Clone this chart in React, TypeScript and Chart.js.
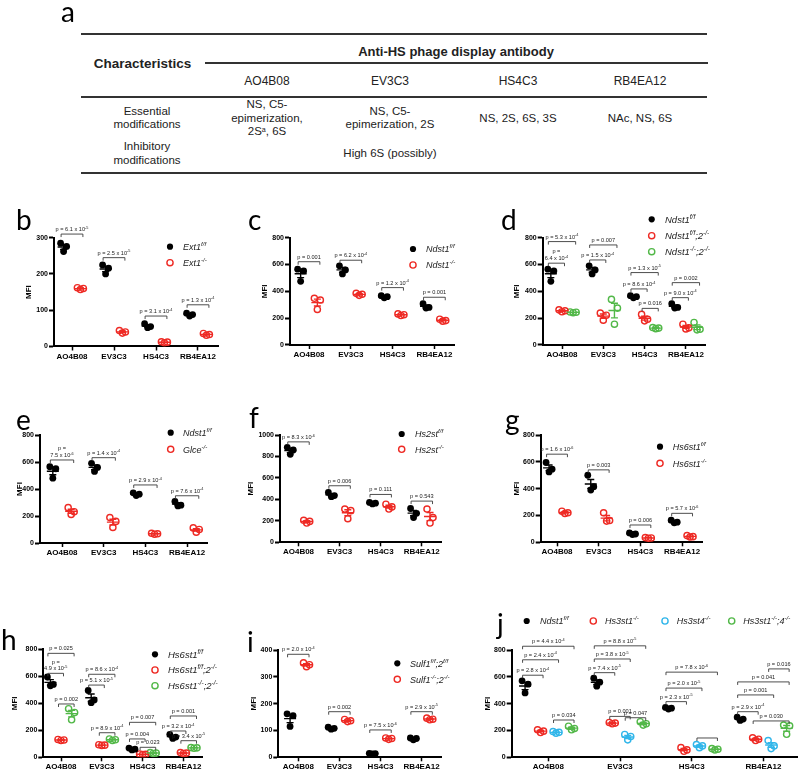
import React, { useEffect, useRef } from "react";
import { Chart, registerables } from "chart.js";

Chart.register(...registerables);

const FONT = "'Liberation Sans', Arial, Helvetica, sans-serif";
const LETTER_FONT = "Lato, 'Open Sans', sans-serif";
const BLACK = "#000000";
const RED = "#ee2a24";
const GREEN = "#52b848";
const CYAN = "#31b6ea";

const categories = ["AO4B08", "EV3C3", "HS4C3", "RB4EA12"];

// ---------- panel a (table) ----------
const tableTitle = "Anti-HS phage display antibody";
const rowHeader = "Characteristics";
const rowLabels = [["Essential", "modifications"], ["Inhibitory", "modifications"]];
const essentialCells = [["NS, C5-", "epimerization,", "2S^{a}, 6S"], ["NS, C5-", "epimerization, 2S"], ["NS, 2S, 6S, 3S"], ["NAc, NS, 6S"]];
const inhibitoryCells = [[], ["High 6S (possibly)"], [], []];

// ---------- panel b ----------
const bYTicks = [0, 100, 200, 300];
const bLegend = ["Ext1^{f/f}", "Ext1^{-/-}"];
const bExt1ff = [[285, 276, 262], [225, 216, 200], [63, 55, 52], [92, 88, 84]];
const bExt1ko = [[162, 160, 157], [44, 40, 37], [13, 12, 10], [36, 33, 31]];
const bBrackets = [
  [0, 0, 1, 310, "p = 6.1 x 10^{-5}"],
  [1, 0, 1, 245, "p = 2.5 x 10^{-5}"],
  [2, 0, 1, 84, "p = 3.1 x 10^{-4}"],
  [3, 0, 1, 115, "p = 1.3 x 10^{-4}"],
];

// ---------- panel c ----------
const cYTicks = [0, 200, 400, 600, 800];
const cLegend = ["Ndst1^{f/f}", "Ndst1^{-/-}"];
const cNdst1ff = [[565, 552, 475], [590, 560, 530], [368, 360, 352], [308, 280, 275]];
const cNdst1ko = [[348, 335, 265], [385, 378, 370], [232, 226, 220], [192, 182, 178]];
const cBrackets = [
  [0, 0, 1, 621, "p = 0.001"],
  [1, 0, 1, 632, "p = 6.2 x 10^{-4}"],
  [2, 0, 1, 428, "p = 1.2 x 10^{-4}"],
  [3, 0, 1, 356, "p = 0.001"],
];

// ---------- panel d ----------
const dYTicks = [0, 200, 400, 600, 800];
const dLegend = ["Ndst1^{f/f}", "Ndst1^{f/f};2^{-/-}", "Ndst1^{-/-};2^{-/-}"];
const dNdst1ff = [[565, 552, 475], [590, 560, 530], [368, 360, 352], [308, 280, 275]];
const dNdst1ffNdst2ko = [[262, 255, 248], [238, 222, 185], [228, 192, 180], [155, 128, 120]];
const dNdst1koNdst2ko = [[246, 244, 241], [340, 275, 155], [130, 126, 122], [168, 117, 113]];
const dBrackets = [
  [0, 0, 2, 771, "p = 5.3 x 10^{-4}"],
  [0, 0, 1, 610, "p =\n6.4 x 10^{-4}"],
  [1, 0, 2, 746, "p = 0.007"],
  [1, 0, 1, 634, "p = 1.5 x 10^{-4}"],
  [2, 0, 2, 540, "p = 1.3 x 10^{-5}"],
  [2, 0, 1, 418, "p = 8.6 x 10^{-4}"],
  [2, 1, 2, 273, "p = 0.016"],
  [3, 0, 2, 465, "p = 0.002"],
  [3, 0, 1, 353, "p = 9.0 x 10^{-4}"],
];

// ---------- panel e ----------
const eYTicks = [0, 200, 400, 600, 800];
const eLegend = ["Ndst1^{f/f}", "Glce^{-/-}"];
const eNdst1ff = [[565, 550, 480], [590, 560, 530], [372, 362, 352], [308, 280, 275]];
const eGlceko = [[262, 232, 212], [188, 160, 115], [72, 68, 65], [112, 100, 80]];
const eBrackets = [
  [0, 0, 1, 615, "p =\n7.5 x 10^{-6}"],
  [1, 0, 1, 632, "p = 1.4 x 10^{-4}"],
  [2, 0, 1, 430, "p = 2.9 x 10^{-4}"],
  [3, 0, 1, 350, "p = 7.6 x 10^{-4}"],
];

// ---------- panel f ----------
const fYTicks = [0, 200, 400, 600, 800, 1000];
const fLegend = ["Hs2st^{f/f}", "Hs2st^{-/-}"];
const fHs2stff = [[885, 860, 820], [465, 435, 425], [372, 365, 358], [315, 270, 230]];
const fHs2stko = [[205, 195, 180], [310, 295, 220], [355, 330, 310], [310, 230, 180]];
const fBrackets = [
  [0, 0, 1, 936, "p = 8.3 x 10^{-6}"],
  [1, 0, 1, 527, "p = 0.006"],
  [2, 0, 1, 446, "p = 0.111"],
  [3, 0, 1, 384, "p = 0.543"],
];

// ---------- panel g ----------
const gYTicks = [0, 200, 400, 600, 800];
const gLegend = ["Hs6st1^{f/f}", "Hs6st1^{-/-}"];
const gHs6st1ff = [[595, 545, 525], [500, 415, 390], [70, 62, 58], [165, 150, 145]];
const gHs6st1ko = [[232, 220, 215], [220, 162, 158], [35, 32, 30], [50, 42, 40]];
const gBrackets = [
  [0, 0, 1, 657, "p = 1.6 x 10^{-6}"],
  [1, 0, 1, 540, "p = 0.003"],
  [2, 0, 1, 129, "p = 0.006"],
  [3, 0, 1, 216, "p = 5.7 x 10^{-6}"],
];

// ---------- panel h ----------
const hYTicks = [0, 200, 400, 600, 800];
const hLegend = ["Hs6st1^{f/f}", "Hs6st1^{f/f};2^{-/-}", "Hs6st1^{-/-};2^{-/-}"];
const hHs6st1ff = [[595, 540, 530], [495, 425, 405], [68, 60, 55], [170, 150, 140]];
const hHs6st1ffHs6st2ko = [[132, 128, 125], [93, 90, 88], [25, 22, 20], [35, 31, 28]];
const hHs6st1koHs6st2ko = [[360, 332, 278], [136, 130, 125], [35, 31, 28], [72, 70, 67]];
const hBrackets = [
  [0, 0, 2, 770, "p = 0.025"],
  [0, 0, 1, 622, "p =\n4.9 x 10^{-5}"],
  [0, 1, 2, 395, "p = 0.002"],
  [1, 0, 2, 615, "p = 8.6 x 10^{-4}"],
  [1, 0, 1, 535, "p = 5.1 x 10^{-5}"],
  [1, 1, 2, 182, "p = 8.9 x 10^{-4}"],
  [2, 0, 2, 259, "p = 0.007"],
  [2, 0, 1, 136, "p = 0.004"],
  [2, 1, 2, 74, "p = 0.023"],
  [3, 0, 2, 306, "p = 0.001"],
  [3, 0, 1, 195, "p = 3.2 x 10^{-4}"],
  [3, 1, 2, 123, "p = 3.4 x 10^{-5}"],
];

// ---------- panel i ----------
const iYTicks = [0, 100, 200, 300, 400];
const iLegend = ["Sulf1^{f/f};2^{f/f}", "Sulf1^{-/-};2^{-/-}"];
const iSulfff = [[162, 155, 115], [112, 108, 105], [15, 14, 13], [72, 70, 65]];
const iSulfko = [[352, 345, 338], [141, 136, 133], [72, 70, 67], [146, 142, 140]];
const iBrackets = [
  [0, 0, 1, 384, "p = 2.0 x 10^{-4}"],
  [1, 0, 1, 170, "p = 0.002"],
  [2, 0, 1, 102, "p = 7.5 x 10^{-6}"],
  [3, 0, 1, 170, "p = 2.9 x 10^{-5}"],
];

// ---------- panel j ----------
const jYTicks = [0, 200, 400, 600, 800];
const jLegend = ["Ndst1^{f/f}", "Hs3st1^{-/-}", "Hs3st4^{-/-}", "Hs3st1^{-/-};4^{-/-}"];
const jNdst1ff = [[570, 545, 480], [590, 560, 530], [372, 366, 360], [300, 285, 275]];
const jHs3st1ko = [[205, 195, 185], [260, 255, 250], [72, 55, 45], [145, 135, 125]];
const jHs3st4ko = [[192, 186, 180], [170, 155, 130], [95, 85, 72], [125, 85, 65]];
const jHs3st14ko = [[232, 215, 205], [265, 250, 240], [65, 60, 55], [240, 235, 172]];
const jBrackets = [
  [0, 0, 3, 828, "p = 4.4 x 10^{-4}"],
  [0, 0, 2, 727, "p = 2.4 x 10^{-4}"],
  [0, 0, 1, 612, "p = 2.8 x 10^{-4}"],
  [0, 2, 3, 278, "p = 0.034"],
  [1, 0, 3, 831, "p = 8.8 x 10^{-5}"],
  [1, 0, 2, 733, "p = 3.8 x 10^{-5}"],
  [1, 0, 1, 631, "p = 7.4 x 10^{-5}"],
  [1, 1, 2, 305, "p = 0.001"],
  [1, 2, 3, 295, "p = 0.047"],
  [2, 0, 3, 635, "p = 7.8 x 10^{-6}"],
  [2, 0, 2, 516, "p = 2.0 x 10^{-5}"],
  [2, 0, 1, 415, "p = 2.3 x 10^{-5}"],
  [2, 2, 3, 144, ""],
  [3, 2, 3, 659, "p = 0.016"],
  [3, 0, 3, 562, "p = 0.041"],
  [3, 0, 2, 465, "p = 0.001"],
  [3, 0, 1, 340, "p = 2.9 x 10^{-4}"],
  [3, 1, 3, 271, "p = 0.030"],
];

// ---------- layout (positions only) ----------
type Geo = {
  axisX: number; center0: number; spacing: number; yTop: number; yZero: number; mfiX: number;
  offsets: number[]; lx: number[]; ly: number[]; tx: number[]; lsize: number;
};
type PanelDef = { key: string; yTicks: number[]; series: number[][][]; names: string[]; colors: string[]; brackets: any[]; geo: Geo };

const panels: PanelDef[] = [
  { key: "b", yTicks: bYTicks, series: [bExt1ff, bExt1ko], names: bLegend, colors: [BLACK, RED], brackets: bBrackets,
    geo: { axisX: 54, center0: 72, spacing: 42, yTop: 237.7, yZero: 346.5, mfiX: 29, offsets: [-0.2, 0.2], lx: [170, 170], ly: [246.7, 262.7], tx: [183, 183], lsize: 9 } },
  { key: "c", yTicks: cYTicks, series: [cNdst1ff, cNdst1ko], names: cLegend, colors: [BLACK, RED], brackets: cBrackets,
    geo: { axisX: 290, center0: 309, spacing: 41.8, yTop: 237.7, yZero: 345, mfiX: 265, offsets: [-0.2, 0.2], lx: [413, 413], ly: [249, 265], tx: [426, 426], lsize: 9 } },
  { key: "d", yTicks: dYTicks, series: [dNdst1ff, dNdst1ffNdst2ko, dNdst1koNdst2ko], names: dLegend, colors: [BLACK, RED, GREEN], brackets: dBrackets,
    geo: { axisX: 542.7, center0: 562, spacing: 41.3, yTop: 237.7, yZero: 345, mfiX: 516.7, offsets: [-0.27, 0, 0.27], lx: [651.7, 651.7, 651.7], ly: [219.3, 235.7, 251.7], tx: [665, 665, 665], lsize: 9.5 } },
  { key: "e", yTicks: eYTicks, series: [eNdst1ff, eGlceko], names: eLegend, colors: [BLACK, RED], brackets: eBrackets,
    geo: { axisX: 40, center0: 62, spacing: 41.7, yTop: 435, yZero: 543, mfiX: 20, offsets: [-0.22, 0.22], lx: [170.7, 170.7], ly: [432.7, 449.3], tx: [183, 183], lsize: 9 } },
  { key: "f", yTicks: fYTicks, series: [fHs2stff, fHs2stko], names: fLegend, colors: [BLACK, RED], brackets: fBrackets,
    geo: { axisX: 280, center0: 298.5, spacing: 41.1, yTop: 435, yZero: 542.3, mfiX: 250.7, offsets: [-0.2, 0.2], lx: [401.7, 401.7], ly: [434, 449.3], tx: [415, 415], lsize: 9 } },
  { key: "g", yTicks: gYTicks, series: [gHs6st1ff, gHs6st1ko], names: gLegend, colors: [BLACK, RED], brackets: gBrackets,
    geo: { axisX: 540.7, center0: 557, spacing: 41.7, yTop: 435, yZero: 542.3, mfiX: 516.7, offsets: [-0.19, 0.19], lx: [660, 660], ly: [446.7, 463.3], tx: [672.7, 672.7], lsize: 9 } },
  { key: "h", yTicks: hYTicks, series: [hHs6st1ff, hHs6st1ffHs6st2ko, hHs6st1koHs6st2ko], names: hLegend, colors: [BLACK, RED, GREEN], brackets: hBrackets,
    geo: { axisX: 43.3, center0: 61, spacing: 40.8, yTop: 649.3, yZero: 757.3, mfiX: 15, offsets: [-0.26, 0, 0.26], lx: [155, 155, 155], ly: [654.3, 670, 685.7], tx: [168, 168, 168], lsize: 9.5 } },
  { key: "i", yTicks: iYTicks, series: [iSulfff, iSulfko], names: iLegend, colors: [BLACK, RED], brackets: iBrackets,
    geo: { axisX: 278.3, center0: 298.3, spacing: 41.1, yTop: 650, yZero: 757.3, mfiX: 253.3, offsets: [-0.2, 0.2], lx: [397.3, 397.3], ly: [663.3, 679.3], tx: [410, 410], lsize: 9 } },
  { key: "j", yTicks: jYTicks, series: [jNdst1ff, jHs3st1ko, jHs3st4ko, jHs3st14ko], names: jLegend, colors: [BLACK, RED, CYAN, GREEN], brackets: jBrackets,
    geo: { axisX: 511.7, center0: 548.3, spacing: 71.7, yTop: 650, yZero: 757.3, mfiX: 488, offsets: [-0.324, -0.108, 0.108, 0.324], lx: [526.7, 593.3, 665, 731.7], ly: [621, 621, 621, 621], tx: [540, 605, 676.7, 743.3], lsize: 9 } },
];

const JITTER_PX = [-3, 3, 0];
const X_END = 3.48;

function parseRich(s: string) {
  const segs: { text: string; sup: boolean }[] = [];
  const re = /\^\{([^}]*)\}/g;
  let last = 0;
  let m: RegExpExecArray | null;
  while ((m = re.exec(s))) {
    if (m.index > last) segs.push({ text: s.slice(last, m.index), sup: false });
    segs.push({ text: m[1], sup: true });
    last = re.lastIndex;
  }
  if (last < s.length) segs.push({ text: s.slice(last), sup: false });
  return segs;
}

function drawRich(ctx: CanvasRenderingContext2D, s: string, x: number, y: number, size: number, align: string, style: string, color: string) {
  const segs = parseRich(s);
  const base = `${style} ${size}px ${FONT}`;
  const supSize = size * 0.68;
  const sup = `${style} ${supSize}px ${FONT}`;
  let total = 0;
  const widths = segs.map((sg) => {
    ctx.font = sg.sup ? sup : base;
    const w = ctx.measureText(sg.text).width;
    total += w;
    return w;
  });
  let cx = align === "center" ? x - total / 2 : x;
  ctx.fillStyle = color;
  ctx.textAlign = "left";
  ctx.textBaseline = "alphabetic";
  segs.forEach((sg, i) => {
    ctx.font = sg.sup ? sup : base;
    ctx.fillText(sg.text, cx, sg.sup ? y - size * 0.42 : y);
    cx += widths[i];
  });
}

function PanelChart({ panel }: { panel: PanelDef }) {
  const ref = useRef<HTMLCanvasElement>(null);
  useEffect(() => {
    const canvas = ref.current;
    if (!canvas) return;
    const g = panel.geo;
    const sp = g.spacing;
    const xMin = (g.axisX - g.center0) / sp;
    const xMax = X_END;
    const axisEnd = g.center0 + X_END * sp;
    const yMax = panel.yTicks[panel.yTicks.length - 1];
    const xH = 14;
    const yW = g.axisX - g.mfiX + 4.8;

    const datasets = panel.series.map((ser, si) => ({
      label: panel.names[si],
      data: ser.flatMap((vals, gi) => vals.map((v, ri) => ({ x: gi + g.offsets[si] + JITTER_PX[ri % 3] / sp, y: v }))),
      pointRadius: si === 0 ? 3.4 : 3.1,
      pointBackgroundColor: si === 0 ? BLACK : "rgba(255,255,255,0)",
      pointBorderColor: panel.colors[si],
      pointBorderWidth: si === 0 ? 0 : 1.4,
      showLine: false,
    }));

    const extras = {
      id: "extras_" + panel.key,
      afterDatasetsDraw(chart: any) {
        const ctx: CanvasRenderingContext2D = chart.ctx;
        const xs = chart.scales.x;
        const ys = chart.scales.y;
        ctx.save();
        // mean ± SEM
        panel.series.forEach((ser, si) => {
          const col = panel.colors[si];
          ser.forEach((vals, gi) => {
            const n = vals.length;
            const m = vals.reduce((a, b) => a + b, 0) / n;
            const sd = Math.sqrt(vals.reduce((a, b) => a + (b - m) * (b - m), 0) / (n - 1));
            const sem = sd / Math.sqrt(n);
            const cx = xs.getPixelForValue(gi + g.offsets[si]);
            const ym = ys.getPixelForValue(m);
            const y1 = ys.getPixelForValue(m - sem);
            const y2 = ys.getPixelForValue(m + sem);
            ctx.strokeStyle = col;
            ctx.lineWidth = 1.4;
            ctx.beginPath();
            ctx.moveTo(cx - 6, ym); ctx.lineTo(cx + 6, ym);
            ctx.moveTo(cx, y1); ctx.lineTo(cx, y2);
            ctx.moveTo(cx - 3.5, y1); ctx.lineTo(cx + 3.5, y1);
            ctx.moveTo(cx - 3.5, y2); ctx.lineTo(cx + 3.5, y2);
            ctx.stroke();
          });
        });
        // brackets with p values
        panel.brackets.forEach((br: any[]) => {
          const [gi, a, b, lvl, label] = br;
          const x1 = xs.getPixelForValue(gi + g.offsets[a]) - 2.5;
          const x2 = xs.getPixelForValue(gi + g.offsets[b]) + 2.5;
          const yy = ys.getPixelForValue(lvl);
          ctx.strokeStyle = "#3a3a3a";
          ctx.lineWidth = 0.9;
          ctx.beginPath();
          ctx.moveTo(x1, yy + 3); ctx.lineTo(x1, yy); ctx.lineTo(x2, yy); ctx.lineTo(x2, yy + 3);
          ctx.stroke();
          if (label) {
            const lines = String(label).split("\n");
            lines.forEach((ln, k) => {
              drawRich(ctx, ln, (x1 + x2) / 2, yy - 3 - (lines.length - 1 - k) * 6.8, 5.6, "center", "normal", "#222");
            });
          }
        });
        // legend
        panel.names.forEach((name, i) => {
          const mx = g.lx[i];
          const my = g.ly[i];
          ctx.beginPath();
          ctx.arc(mx, my, 3.1, 0, Math.PI * 2);
          if (i === 0) {
            ctx.fillStyle = BLACK;
            ctx.fill();
          } else {
            ctx.strokeStyle = panel.colors[i];
            ctx.lineWidth = 1.4;
            ctx.stroke();
          }
          drawRich(ctx, name, g.tx[i], my + g.lsize * 0.36, g.lsize, "left", "italic", "#222");
        });
        ctx.restore();
      },
    };

    const tickFont = { family: FONT, size: 7, weight: "bold" as const };
    const chart = new Chart(canvas, {
      type: "scatter",
      data: { datasets },
      options: {
        responsive: false,
        animation: false,
        devicePixelRatio: 1,
        events: [],
        layout: {
          autoPadding: false,
          padding: { left: g.axisX - yW, top: g.yTop, right: 800 - axisEnd, bottom: 772 - g.yZero - xH },
        },
        plugins: { legend: { display: false }, tooltip: { enabled: false } },
        scales: {
          x: {
            type: "linear",
            min: xMin,
            max: xMax,
            afterBuildTicks: (s: any) => { s.ticks = categories.map((_, i) => ({ value: i })); },
            afterFit: (s: any) => { s.height = xH; },
            ticks: {
              callback: (v: any) => categories[Math.round(Number(v))] ?? "",
              font: { family: FONT, size: 8, weight: "bold" },
              color: "#000",
              padding: 1,
              maxRotation: 0,
              autoSkip: false,
            },
            grid: { drawOnChartArea: false, drawTicks: true, tickLength: 4, tickWidth: 1.5, tickColor: "#000" },
            border: { display: true, color: "#000", width: 2 },
          },
          y: {
            type: "linear",
            min: 0,
            max: yMax,
            afterBuildTicks: (s: any) => { s.ticks = panel.yTicks.map((v) => ({ value: v })); },
            afterFit: (s: any) => { s.width = yW; },
            ticks: { font: tickFont, color: "#000", padding: 1, callback: (v: any) => String(v) },
            grid: { drawOnChartArea: false, drawTicks: true, tickLength: 5, tickWidth: 2, tickColor: "#000" },
            border: { display: true, color: "#000", width: 2 },
            title: { display: true, text: "MFI", font: { family: FONT, size: 8, weight: "bold" }, color: "#000", padding: 0 },
          },
        },
      } as any,
      plugins: [extras],
    });
    return () => chart.destroy();
  }, [panel]);
  return (
    <canvas
      ref={ref}
      width={800}
      height={772}
      style={{ position: "absolute", left: 0, top: 0, width: 800, height: 772, pointerEvents: "none" }}
    />
  );
}

function RichHtml({ s }: { s: string }) {
  return (
    <>
      {parseRich(s).map((sg, i) =>
        sg.sup ? (
          <sup key={i} style={{ fontSize: "0.62em", verticalAlign: "0.45em", lineHeight: 0 }}>{sg.text}</sup>
        ) : (
          <span key={i}>{sg.text}</span>
        )
      )}
    </>
  );
}

function Txt({ x, y, size, bold, s }: { x: number; y: number; size: number; bold?: boolean; s: string }) {
  return (
    <div
      style={{
        position: "absolute", left: x, top: y, transform: "translate(-50%,-50%)", fontSize: size,
        fontWeight: bold ? 700 : 400, whiteSpace: "nowrap", lineHeight: 1, color: "#222", fontFamily: FONT,
      }}
    >
      <RichHtml s={s} />
    </div>
  );
}

function HLine({ x1, x2, y, w }: { x1: number; x2: number; y: number; w: number }) {
  return <div style={{ position: "absolute", left: x1, top: y - w / 2, width: x2 - x1, height: w, background: "#333" }} />;
}

const TABLE_COLS_X = [267, 390, 518, 640];
const TABLE_LABEL_X = 147;
const ESS_Y = 118.5;
const INH_Y = 154;

function TableA() {
  const items: React.ReactNode[] = [];
  const lh = 13.5;
  essentialCells.forEach((lines, c) => {
    lines.forEach((ln, k) => {
      items.push(<Txt key={"e" + c + k} x={TABLE_COLS_X[c]} y={ESS_Y + (k - (lines.length - 1) / 2) * lh} size={11.5} s={ln} />);
    });
  });
  inhibitoryCells.forEach((lines, c) => {
    lines.forEach((ln, k) => {
      items.push(<Txt key={"i" + c + k} x={TABLE_COLS_X[c]} y={INH_Y + (k - (lines.length - 1) / 2) * 14} size={11.5} s={ln} />);
    });
  });
  return (
    <>
      <HLine x1={80.7} x2={707.5} y={34} w={1.6} />
      <Txt x={456} y={51} size={13} bold s={tableTitle} />
      <HLine x1={205} x2={707.5} y={63} w={1.6} />
      <Txt x={142.5} y={64} size={13.5} bold s={rowHeader} />
      {categories.map((c, i) => (
        <Txt key={c} x={TABLE_COLS_X[i]} y={81} size={12} s={c} />
      ))}
      <HLine x1={80.7} x2={707.5} y={97} w={2.6} />
      <Txt x={TABLE_LABEL_X} y={ESS_Y - 6.75} size={11.5} s={rowLabels[0][0]} />
      <Txt x={TABLE_LABEL_X} y={ESS_Y + 6.75} size={11.5} s={rowLabels[0][1]} />
      <Txt x={TABLE_LABEL_X} y={INH_Y - 7} size={11.5} s={rowLabels[1][0]} />
      <Txt x={TABLE_LABEL_X} y={INH_Y + 7} size={11.5} s={rowLabels[1][1]} />
      {items}
      <HLine x1={80.7} x2={707.5} y={173} w={2.6} />
    </>
  );
}

const panelLetters = ["a", "b", "c", "d", "e", "f", "g", "h", "i", "j"];
const LETTER_POS = [
  [61, 22], [16, 230], [248, 230], [501, 230], [16, 430], [249, 428], [505, 430], [1, 650], [247, 652], [497, 634],
];
const LETTER_SIZE = 28;

export default function App() {
  return (
    <div style={{ position: "absolute", left: 0, top: 0, width: 800, height: 772, background: "#fff", overflow: "hidden" }}>
      <TableA />
      {panels.map((p) => (
        <PanelChart key={p.key} panel={p} />
      ))}
      {panelLetters.map((l, i) => (
        <div
          key={l}
          style={{
            position: "absolute", left: LETTER_POS[i][0], top: LETTER_POS[i][1] - 0.887 * LETTER_SIZE,
            fontFamily: LETTER_FONT, fontSize: LETTER_SIZE, lineHeight: 1, color: "#000",
          }}
        >
          {l}
        </div>
      ))}
    </div>
  );
}
